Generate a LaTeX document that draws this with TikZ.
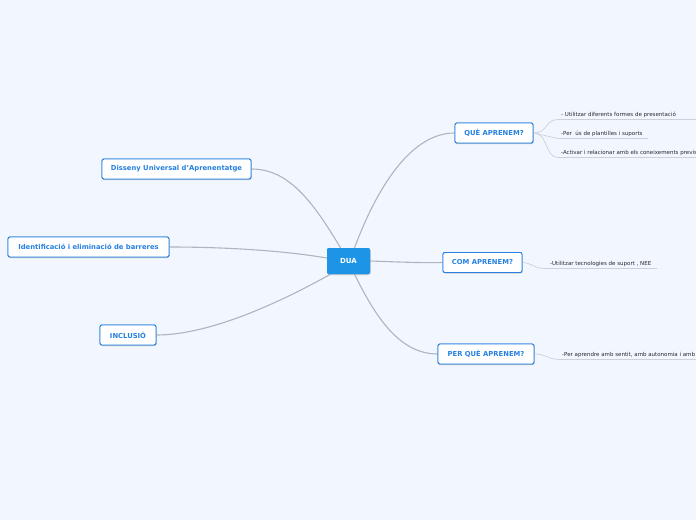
\documentclass[tikz,border=0pt]{standalone}
\usepackage{fontspec}
\setmainfont{DejaVu Sans}
\usetikzlibrary{shadows}
\definecolor{bg}{RGB}{242,246,254}
\definecolor{mainblue}{RGB}{30,148,230}
\definecolor{topicblue}{RGB}{38,128,224}
\definecolor{linegray}{RGB}{176,180,190}
\definecolor{sublinegray}{RGB}{204,208,218}
\definecolor{leaftext}{RGB}{40,40,48}
\tikzset{
  centre/.style={rectangle, rounded corners=2pt, fill=mainblue, text=white, font=\bfseries\fontsize{7}{8}\selectfont, minimum width=43pt, minimum height=26pt, inner sep=0pt, drop shadow={opacity=0.2, shadow xshift=0.5pt, shadow yshift=-1pt}},
  topic/.style={rectangle, rounded corners=2pt, draw=topicblue, line width=0.9pt, fill=white, text=topicblue, font=\bfseries\fontsize{6.8}{8}\selectfont, minimum height=20pt, inner sep=0pt, drop shadow={opacity=0.2, shadow xshift=0.5pt, shadow yshift=-1pt}},
  leaf/.style={anchor=south west, inner sep=0pt, text=leaftext, font=\fontsize{5.5}{6.5}\selectfont},
  conn/.style={draw=linegray, line width=1.1pt},
  subconn/.style={draw=sublinegray, line width=0.7pt}
}
\begin{document}
\begin{tikzpicture}[x=1pt,y=-1pt]
\fill[bg] (0,0) rectangle (696,520);
\useasboundingbox (0,0) rectangle (696,520);

% nodes
\node[centre] (dua) at (348.5,261) {DUA};
\node[topic, minimum width=78pt] (que) at (494,133) {QUÈ APRENEM?};
\node[topic, minimum width=79pt] (com) at (482.5,262.5) {COM APRENEM?};
\node[topic, minimum width=96pt] (per) at (486,354) {PER QUÈ APRENEM?};
\node[topic, minimum width=149pt] (dis) at (176.5,169) {Disseny Universal d'Aprenentatge};
\node[topic, minimum width=161pt] (ide) at (88.5,247) {Identificació i eliminació de barreres};
\node[topic, minimum width=56pt] (inc) at (128,335) {INCLUSIÓ};

% leaves
\node[leaf] (l1) at (561,117.5) {- Utilitzar diferents formes de presentació};
\node[leaf] (l2) at (561,136.5) {-Per\ \ ús de plantilles i suports};
\node[leaf] (l3) at (561,155.5) {-Activar i relacionar amb els coneixements previs};
\node[leaf] (l4) at (550,266.5) {-Utilitzar tecnologies de suport , NEE};
\node[leaf] (l5) at (562,357.5) {-Per aprendre amb sentit, amb autonomia i amb};

\coordinate (u1s) at (558,119.5); \coordinate (u1e) at (700,119.5);
\coordinate (u2s) at (558,138.5); \coordinate (u2e) at (648,138.5);
\coordinate (u3s) at (558,157.5); \coordinate (u3e) at (700,157.5);
\coordinate (u4s) at (545,268.5); \coordinate (u4e) at (657,268.5);
\coordinate (u5s) at (560,359.5); \coordinate (u5e) at (700,359.5);

% main connectors
\draw[conn] (dua.north) ++(6,0) .. controls (378,185) and (412,133) .. (que.west);
\draw[conn] (dua.east) .. controls (400,262) and (420,263) .. (com.west);
\draw[conn] (dua.south) ++(6,0) .. controls (376,318) and (400,354) .. (per.west);
\draw[conn] (dua.north) ++(-8,0) .. controls (312,200) and (288,169) .. (dis.east);
\draw[conn] (dua.west) ++(0,-3) .. controls (280,250) and (220,247) .. (ide.east);
\draw[conn] (dua.south) ++(-18,0) .. controls (270,308) and (205,335) .. (inc.east);

% sub connectors
\draw[subconn] (que.east) .. controls (548,133) and (545,119.5) .. (u1s) -- (u1e);
\draw[subconn] (que.east) -- (u2s) -- (u2e);
\draw[subconn] (que.east) .. controls (548,133) and (545,157.5) .. (u3s) -- (u3e);
\draw[subconn] (com.east) .. controls (532,263) and (534,268.5) .. (u4s) -- (u4e);
\draw[subconn] (per.east) .. controls (546,354) and (548,359.5) .. (u5s) -- (u5e);

% redraw nodes on top
\node[centre] at (dua) {DUA};
\node[topic, minimum width=78pt] at (que) {QUÈ APRENEM?};
\node[topic, minimum width=79pt] at (com) {COM APRENEM?};
\node[topic, minimum width=96pt] at (per) {PER QUÈ APRENEM?};
\node[topic, minimum width=149pt] at (dis) {Disseny Universal d'Aprenentatge};
\node[topic, minimum width=161pt] at (ide) {Identificació i eliminació de barreres};
\node[topic, minimum width=56pt] at (inc) {INCLUSIÓ};
\end{tikzpicture}
\end{document}
